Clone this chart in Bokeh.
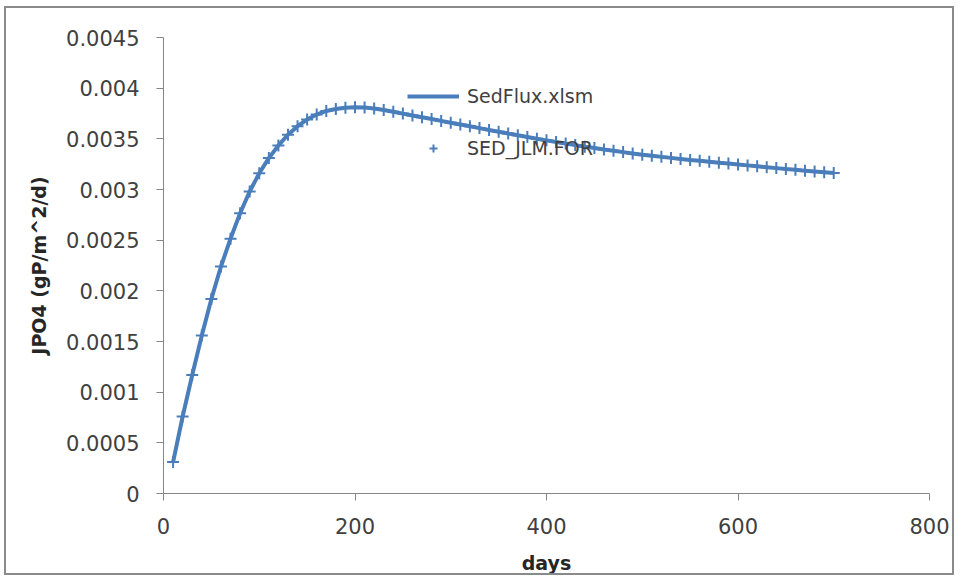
from bokeh.plotting import figure
from bokeh.models import Range1d, FixedTicker, CustomJSTickFormatter, Legend, LegendItem
from bokeh.embed import file_html
from bokeh.resources import INLINE

# ---- data ----
days = [10, 20, 30, 40, 50, 60, 70, 80, 90, 100,
        110, 120, 130, 140, 150, 160, 170, 180, 190, 200,
        210, 220, 230, 240, 250, 260, 270, 280, 290, 300,
        310, 320, 330, 340, 350, 360, 370, 380, 390, 400,
        410, 420, 430, 440, 450, 460, 470, 480, 490, 500,
        510, 520, 530, 540, 550, 560, 570, 580, 590, 600,
        610, 620, 630, 640, 650, 660, 670, 680, 690, 700]

sedflux_xlsm = [0.000310, 0.000760, 0.001170, 0.001560, 0.001920, 0.002240, 0.002515, 0.002765, 0.002980, 0.003160,
                0.003310, 0.003435, 0.003540, 0.003625, 0.003690, 0.003740, 0.003775, 0.003795, 0.003807, 0.003812,
                0.003810, 0.003800, 0.003785, 0.003767, 0.003749, 0.003731, 0.003713, 0.003695, 0.003677, 0.003659,
                0.003641, 0.003624, 0.003606, 0.003588, 0.003570, 0.003552, 0.003535, 0.003518, 0.003501, 0.003485,
                0.003469, 0.003453, 0.003438, 0.003423, 0.003409, 0.003395, 0.003382, 0.003369, 0.003356, 0.003344,
                0.003333, 0.003322, 0.003312, 0.003302, 0.003292, 0.003283, 0.003274, 0.003265, 0.003256, 0.003247,
                0.003238, 0.003229, 0.003220, 0.003211, 0.003202, 0.003194, 0.003186, 0.003178, 0.003170, 0.003162]

sed_jlm_for = [0.000310, 0.000760, 0.001170, 0.001560, 0.001920, 0.002240, 0.002515, 0.002765, 0.002980, 0.003160,
               0.003310, 0.003435, 0.003540, 0.003625, 0.003690, 0.003740, 0.003775, 0.003795, 0.003807, 0.003812,
               0.003810, 0.003800, 0.003785, 0.003767, 0.003749, 0.003731, 0.003713, 0.003695, 0.003677, 0.003659,
               0.003641, 0.003624, 0.003606, 0.003588, 0.003570, 0.003552, 0.003535, 0.003518, 0.003501, 0.003485,
               0.003469, 0.003453, 0.003438, 0.003423, 0.003409, 0.003395, 0.003382, 0.003369, 0.003356, 0.003344,
               0.003333, 0.003322, 0.003312, 0.003302, 0.003292, 0.003283, 0.003274, 0.003265, 0.003256, 0.003247,
               0.003238, 0.003229, 0.003220, 0.003211, 0.003202, 0.003194, 0.003186, 0.003178, 0.003170, 0.003162]

x_ticks = [0, 200, 400, 600, 800]
y_ticks = [0, 0.0005, 0.001, 0.0015, 0.002, 0.0025, 0.003, 0.0035, 0.004, 0.0045]
y_tick_labels = ["0", "0.0005", "0.001", "0.0015", "0.002", "0.0025", "0.003", "0.0035", "0.004", "0.0045"]

series_names = ["SedFlux.xlsm", "SED_JLM.FOR"]

# ---- styling ----
BLUE = "#4A7EBB"
AXIS = "#868686"
FONT = "DejaVu Sans"

p = figure(width=950, height=569, output_backend="svg", toolbar_location=None,
           x_range=Range1d(0, 800), y_range=Range1d(0, 0.0045),
           min_border_left=157, min_border_right=27, min_border_top=29, min_border_bottom=84,
           styles={"border": "2px solid #8a8a8a", "margin-left": "4px", "margin-top": "6px"})

p.outline_line_color = None
p.xgrid.visible = False
p.ygrid.visible = False
p.background_fill_color = "white"
p.border_fill_color = "white"

line_r = p.line(days, sedflux_xlsm, line_color=BLUE, line_width=4)
mark_r = p.scatter(days, sed_jlm_for, marker="cross", size=12, line_color=BLUE, line_width=2)

# axes
p.xaxis.ticker = FixedTicker(ticks=x_ticks)
p.yaxis.ticker = FixedTicker(ticks=y_ticks)
p.yaxis.formatter = CustomJSTickFormatter(
    args=dict(tvals=y_ticks, tlabels=y_tick_labels),
    code="const i = tvals.findIndex(t => Math.abs(t - tick) < 1e-9); return i >= 0 ? tlabels[i] : '';")

for ax in (p.xaxis[0], p.yaxis[0]):
    ax.axis_line_color = AXIS
    ax.axis_line_width = 1
    ax.major_tick_line_color = AXIS
    ax.major_tick_out = 7
    ax.major_tick_in = 0
    ax.minor_tick_line_color = None
    ax.major_label_text_font = FONT
    ax.major_label_text_font_size = "21px"
    ax.major_label_text_color = "#404040"
    ax.axis_label_text_font = FONT
    ax.axis_label_text_font_size = "19px"
    ax.axis_label_text_font_style = "bold"
    ax.axis_label_text_color = "#262626"

p.xaxis.axis_label = "days"
p.yaxis.axis_label = "JPO4 (gP/m^2/d)"
p.xaxis.major_label_standoff = 17
p.yaxis.major_label_standoff = 17
p.xaxis.axis_label_standoff = 15
p.yaxis.axis_label_standoff = 13

legend = Legend(items=[LegendItem(label=series_names[0], renderers=[line_r]),
                       LegendItem(label=series_names[1], renderers=[mark_r])],
                location=(244, 334), orientation="vertical",
                padding=0, margin=0, spacing=30,
                glyph_width=52, glyph_height=20, label_height=20, label_standoff=8,
                label_text_font=FONT, label_text_font_size="19px", label_text_color="#404040",
                border_line_color=None, background_fill_alpha=0)
p.add_layout(legend)

open("out.html", "w").write(file_html(p, INLINE))
